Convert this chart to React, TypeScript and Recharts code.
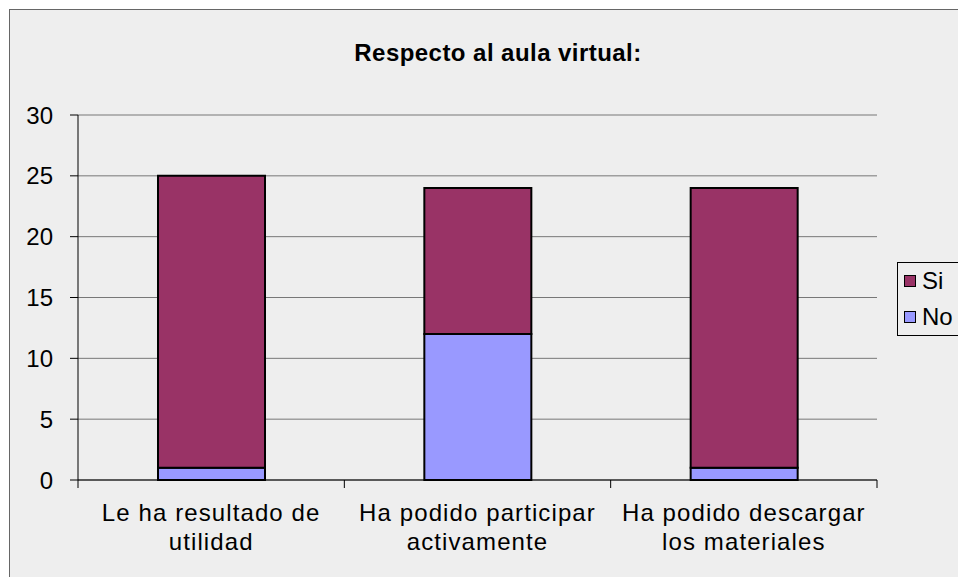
import React from 'react';
import { BarChart, Bar, XAxis, YAxis, CartesianGrid, Legend } from 'recharts';

const categories = [
  'Le ha resultado de\nutilidad',
  'Ha podido participar\nactivamente',
  'Ha podido descargar\nlos materiales',
];
const siValues = [24, 12, 23];
const noValues = [1, 12, 1];
const yTicks = [0, 5, 10, 15, 20, 25, 30];

const data = categories.map((name, i) => ({ name, Si: siValues[i], No: noValues[i] }));

const FONT = '"Liberation Sans", Arial, sans-serif';

// category label + boundary tick marks (Excel puts x ticks between categories)
const CatTick = (props: any) => {
  const { x, y, payload, index, width } = props;
  const half = payload.offset ?? width / categories.length / 2;
  const lines = String(payload.value).split('\n');
  const isLast = index === categories.length - 1;
  return (
    <g>
      <line x1={x - half} x2={x - half} y1={y - 8} y2={y} stroke="#000" />
      {isLast && <line x1={x + half} x2={x + half} y1={y - 8} y2={y} stroke="#000" />}
      <text x={x} y={y + 33} textAnchor="middle" fontSize={24} letterSpacing={1.1} fill="#000" fontFamily={FONT}>
        {lines.map((l, i) => (
          <tspan key={i} x={x} dy={i === 0 ? 0 : 29}>
            {l}
          </tspan>
        ))}
      </text>
    </g>
  );
};

const LegendBox = (props: any) => {
  const items = [...(props.payload || [])].reverse();
  return (
    <div
      style={{
        border: '1px solid #000',
        background: '#EEEEEE',
        padding: '0 0 0 6px',
        width: 80,
        fontFamily: FONT,
        fontSize: 24,
        lineHeight: '36px',
        boxSizing: 'border-box',
      }}
    >
      {items.map((it: any) => (
        <div key={it.value} style={{ display: 'flex', alignItems: 'center', height: 36 }}>
          <span
            style={{
              width: 12,
              height: 12,
              boxSizing: 'border-box',
              border: '1px solid #000',
              background: it.color,
              marginRight: 6,
              display: 'inline-block',
            }}
          />
          <span>{it.value}</span>
        </div>
      ))}
    </div>
  );
};

export default function App() {
  return (
    <div style={{ position: 'fixed', left: 0, top: 0, width: 958, height: 577, background: '#fff', overflow: 'hidden' }}>
      <div
        style={{
          position: 'absolute',
          left: 9,
          top: 9,
          width: 980,
          height: 600,
          background: '#EEEEEE',
          border: '1px solid #666',
        }}
      />
      <div
        style={{
          position: 'absolute',
          left: 0,
          top: 40,
          width: 996,
          textAlign: 'center',
          fontFamily: FONT,
          fontWeight: 'bold',
          fontSize: 24,
          letterSpacing: 0.45,
          lineHeight: '25px',
          color: '#000',
        }}
      >
        Respecto al aula virtual:
      </div>
      <div style={{ position: 'absolute', left: 0, top: 0 }}>
        <BarChart width={958} height={577} data={data} margin={{ top: 115, right: 81, bottom: 0, left: 0 }}>
          <CartesianGrid vertical={false} stroke="#777" />
          <XAxis
            dataKey="name"
            stroke="#000"
            tickLine={false}
            tickSize={8}
            tickMargin={0}
            tick={<CatTick />}
            height={97}
            interval={0}
          />
          <YAxis
            domain={[0, 30]}
            ticks={yTicks}
            width={78}
            tickSize={8}
            tickMargin={17}
            stroke="#000"
            tick={{ fontSize: 24, fill: '#000', fontFamily: FONT }}
          />
          <Legend
            layout="vertical"
            align="center"
            verticalAlign="middle"
            content={<LegendBox />}
            wrapperStyle={{ left: 897, top: 262, width: 80, height: 74 }}
          />
          <Bar dataKey="No" name="No" stackId="a" fill="#9999FF" stroke="#000" strokeWidth={2} barSize={107} isAnimationActive={false} />
          <Bar dataKey="Si" name="Si" stackId="a" fill="#993366" stroke="#000" strokeWidth={2} barSize={107} isAnimationActive={false} />
        </BarChart>
      </div>
    </div>
  );
}
